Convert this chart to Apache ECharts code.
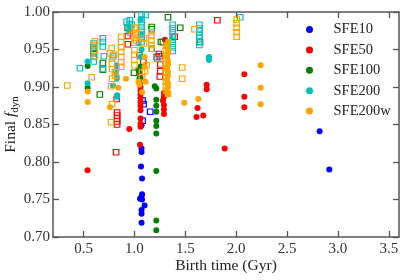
<!DOCTYPE html>
<html><head><meta charset="utf-8">
<script src="https://cdn.jsdelivr.net/npm/echarts@6/dist/echarts.min.js"></script>
<style>html,body{margin:0;padding:0;background:#fff}#c{width:407px;height:280px}</style>
</head><body><div id="c"></div>
<script>
// ---- Data (birth time Gyr, final f_dyn) ----
const xTicks = [0.5, 1.0, 1.5, 2.0, 2.5, 3.0, 3.5];
const yTicks = [0.70, 0.75, 0.80, 0.85, 0.90, 0.95, 1.00];
const seriesNames = ['SFE10', 'SFE50', 'SFE100', 'SFE200', 'SFE200w'];
const seriesColors = ['#0000ff', '#ff0000', '#008000', '#00bfbf', '#ffa500'];

const sfe10Circles = [[1.07,0.849],[1.07,0.818],[1.07,0.8135],[1.065,0.794],[1.075,0.778],[1.075,0.757],[1.07,0.754],[1.055,0.751],[1.075,0.750],[1.10,0.742],[1.07,0.736],[1.07,0.731],[1.07,0.719],[2.82,0.841],[2.915,0.790]];
const sfe10Squares = [[1.08,0.882],[1.09,0.877],[1.155,0.867],[1.08,0.855]];

const sfe50Circles = [[0.54,0.789],[0.95,0.844],[1.055,0.823],[1.06,0.847],[1.06,0.851],[1.06,0.858],[1.06,0.869],[1.06,0.875],[1.06,0.880],[1.06,0.885],[1.06,0.890],[1.06,0.895],[1.06,0.900],[1.06,0.912],[1.29,0.892],[1.29,0.887],[1.28,0.882],[1.29,0.876],[1.29,0.870],[1.29,0.864],[1.30,0.963],[1.71,0.903],[1.71,0.897],[2.08,0.917],[2.08,0.887],[2.08,0.873],[1.62,0.872],[1.61,0.860],[1.677,0.862],[1.887,0.818]];
const sfe50Squares = [[0.82,0.813],[0.83,0.866],[0.83,0.862],[0.83,0.858],[0.83,0.854],[0.83,0.850],[0.826,0.884],[0.935,0.968],[0.935,0.957],[1.24,0.944],[1.25,0.941],[1.255,0.930],[1.255,0.921],[1.25,0.914],[1.22,0.940],[1.395,0.967],[1.815,0.989],[1.087,0.934]];

const sfe100Circles = [[0.54,0.928],[0.54,0.899],[1.20,0.901],[1.215,0.898],[1.215,0.883],[1.215,0.875],[1.215,0.867],[1.215,0.855],[1.215,0.848],[1.215,0.838],[1.215,0.788],[1.215,0.722],[1.215,0.709],[1.06,0.927],[1.055,0.918],[1.05,0.911],[1.055,0.904],[1.04,0.923]];
const sfe100Squares = [[0.66,0.890],[0.60,0.951],[0.60,0.945],[0.69,0.932],[0.69,0.923],[0.934,0.979],[1.33,0.993],[1.45,0.979],[1.17,0.980],[1.17,0.977],[0.996,0.919],[1.05,0.942],[1.28,0.960],[1.26,0.960],[1.17,0.951],[1.644,0.960]];

const sfe200Circles = [[0.54,0.934],[0.54,0.905],[0.826,0.929],[0.826,0.924],[0.82,0.920],[0.826,0.914],[0.826,0.911],[0.83,0.889],[0.83,0.887],[0.79,0.902],[1.04,0.958],[1.733,0.940],[1.733,0.936],[1.06,0.990],[1.065,0.970],[1.07,0.950],[1.06,0.940],[0.957,0.980],[0.957,0.975]];
const sfe200Squares = [[0.465,0.925],[0.60,0.958],[0.60,0.953],[0.60,0.948],[0.60,0.940],[0.60,0.934],[0.69,0.965],[0.69,0.960],[0.69,0.954],[0.69,0.924],[0.70,0.941],[0.79,0.941],[0.924,0.987],[0.973,0.983],[0.954,0.989],[0.954,0.984],[0.954,0.978],[0.954,0.973],[1.07,0.996],[1.07,0.990],[1.07,0.985],[1.07,0.980],[1.07,0.975],[1.07,0.970],[1.07,0.965],[1.07,0.960],[1.11,0.996],[1.376,0.983],[1.376,0.978],[1.376,0.973],[1.376,0.968],[1.376,0.963],[1.376,0.958],[1.376,0.953],[1.376,0.948],[1.638,0.983],[1.638,0.978],[1.638,0.974],[1.638,0.969],[1.638,0.965],[1.638,0.960],[1.638,0.956],[2.04,0.993],[1.225,0.938]];

const sfe200wCircles = [[0.541,0.894],[0.541,0.880],[0.76,0.873],[0.917,0.911],[0.842,0.899],[1.04,0.907],[1.05,0.903],[1.10,0.940],[1.10,0.927],[1.11,0.907],[1.075,0.893],[1.49,0.879],[1.628,0.884],[2.24,0.929],[2.24,0.899],[2.24,0.877],[1.33,0.960],[1.32,0.955],[1.33,0.950],[1.33,0.945],[1.32,0.940],[1.33,0.935],[1.33,0.930],[1.32,0.925],[1.33,0.920],[1.33,0.915],[1.32,0.910],[1.33,0.905],[1.33,0.900],[1.32,0.895],[1.33,0.890]];
const sfe200wSquares = [[0.34,0.902],[0.58,0.913],[0.613,0.961],[0.613,0.956],[0.61,0.949],[0.613,0.941],[0.777,0.952],[0.76,0.945],[0.80,0.943],[0.78,0.938],[0.78,0.931],[0.78,0.924],[0.81,0.920],[0.81,0.915],[0.78,0.911],[0.77,0.901],[0.78,0.877],[0.77,0.853],[0.87,0.967],[0.87,0.960],[0.87,0.953],[0.87,0.947],[0.87,0.940],[0.87,0.933],[0.87,0.927],[1.00,0.979],[1.00,0.972],[1.00,0.965],[1.00,0.959],[1.00,0.949],[1.00,0.943],[1.00,0.936],[1.00,0.929],[1.02,0.979],[1.02,0.970],[1.02,0.962],[0.98,0.969],[1.094,0.965],[1.094,0.958],[1.166,0.973],[1.166,0.968],[1.166,0.962],[1.166,0.956],[1.166,0.951],[1.075,0.913],[1.075,0.920],[1.12,0.929],[1.105,0.921],[1.31,0.955],[1.31,0.949],[1.31,0.943],[1.31,0.937],[1.31,0.931],[1.31,0.925],[1.31,0.919],[1.31,0.913],[1.31,0.907],[1.31,0.901],[1.31,0.895],[1.33,0.891],[1.59,0.977],[1.47,0.926],[1.47,0.911],[2.005,0.990],[2.005,0.985],[2.005,0.979],[2.005,0.973],[2.005,0.967]];

const circleSets = [sfe10Circles, sfe50Circles, sfe100Circles, sfe200Circles, sfe200wCircles];
const squareSets = [sfe10Squares, sfe50Squares, sfe100Squares, sfe200Squares, sfe200wSquares];

// ---- Chart ----
const FONT = 'Liberation Serif';
const axisGray = '#555555';
const series = [];
seriesNames.forEach((name, i) => {
  series.push({
    name: name, type: 'scatter', data: circleSets[i], symbol: 'circle', symbolSize: 6,
    itemStyle: { color: seriesColors[i], opacity: 1 }, silent: true, z: 2 + i
  });
  series.push({
    name: name + ' (sq)', type: 'scatter', data: squareSets[i], symbol: 'rect', symbolSize: 5.5,
    itemStyle: { color: 'rgba(0,0,0,0)', borderColor: seriesColors[i], borderWidth: 1.2, opacity: 1 }, silent: true, z: 2 + i
  });
});

const chart = echarts.init(document.getElementById('c'), null, { renderer: 'canvas' });
const tickStyle = { show: true, inside: true, length: 6, lineStyle: { color: axisGray, width: 1.3 } };
chart.setOption({
  animation: false,
  backgroundColor: '#fff',
  textStyle: { fontFamily: FONT },
  grid: { left: 53, right: 8, top: 12, bottom: 43, containLabel: false, outerBoundsMode: 'none' },
  legend: {
    data: seriesNames, orient: 'vertical', left: 301, top: 17,
    itemWidth: 38, itemHeight: 7, itemGap: 5.4, icon: 'circle',
    textStyle: { fontFamily: FONT, fontSize: 14.5, color: '#222', lineHeight: 14 },
    selectedMode: false
  },
  xAxis: [{
    type: 'value', min: 0.2, max: 3.6, position: 'bottom',
    name: 'Birth time (Gyr)', nameLocation: 'middle', nameGap: 21, nameMoveOverlap: false,
    nameTextStyle: { fontFamily: FONT, fontSize: 15.5, color: '#222' },
    axisLine: { show: true, lineStyle: { color: axisGray, width: 1.5 } },
    axisTick: Object.assign({ customValues: xTicks }, tickStyle),
    axisLabel: { customValues: xTicks, fontFamily: FONT, fontSize: 15, color: '#333', margin: 5, formatter: v => v.toFixed(1) },
    splitLine: { show: false }
  }, {
    type: 'value', min: 0.2, max: 3.6, position: 'top',
    axisLine: { show: true, lineStyle: { color: axisGray, width: 1.5 } },
    axisTick: Object.assign({ customValues: xTicks }, tickStyle),
    axisLabel: { show: false }, splitLine: { show: false }
  }],
  yAxis: [{
    type: 'value', min: 0.7, max: 1.0, position: 'left',
    name: 'Final {it|f}{sub|dyn}', nameLocation: 'middle', nameGap: 32, nameRotate: 90, nameMoveOverlap: false,
    nameTextStyle: {
      fontFamily: FONT, fontSize: 15.5, color: '#222', lineHeight: 20,
      rich: {
        it: { fontFamily: FONT, fontSize: 15.5, fontStyle: 'italic', color: '#222', lineHeight: 20 },
        sub: { fontFamily: FONT, fontSize: 11, color: '#222', lineHeight: 10, verticalAlign: 'bottom' }
      }
    },
    axisLine: { show: true, lineStyle: { color: axisGray, width: 1.5 } },
    axisTick: Object.assign({ customValues: yTicks }, tickStyle),
    axisLabel: { customValues: yTicks, fontFamily: FONT, fontSize: 15, color: '#333', margin: 3, formatter: v => v.toFixed(2) },
    splitLine: { show: false }
  }, {
    type: 'value', min: 0.7, max: 1.0, position: 'right',
    axisLine: { show: true, lineStyle: { color: axisGray, width: 1.5 } },
    axisTick: Object.assign({ customValues: yTicks }, tickStyle),
    axisLabel: { show: false }, splitLine: { show: false }
  }],
  series: series
});
</script>
</body></html>
